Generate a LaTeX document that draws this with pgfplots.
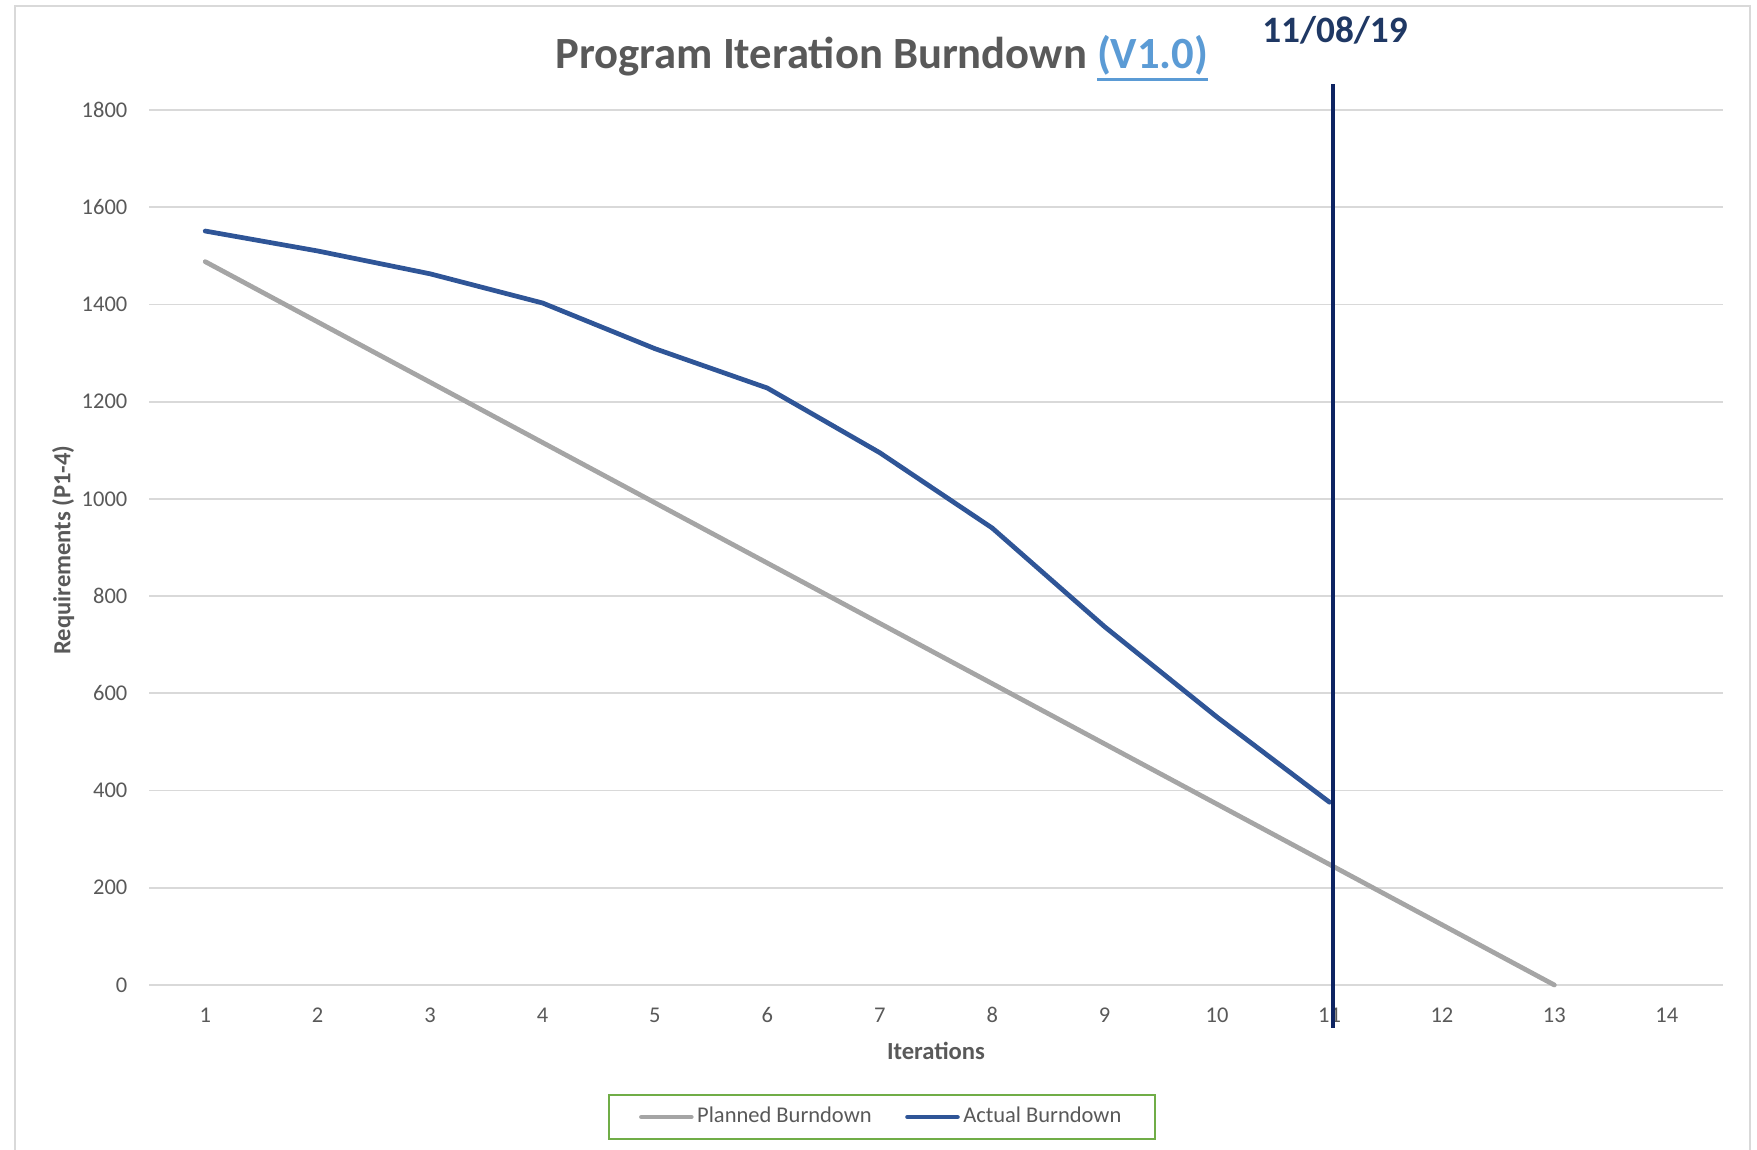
\documentclass[border=0pt]{standalone}
\usepackage{fontspec}
\setmainfont{Carlito}
\usepackage{pgfplots}
\pgfplotsset{compat=1.18}

\definecolor{txtgray}{HTML}{595959}
\definecolor{gridgray}{HTML}{D9D9D9}
\definecolor{planned}{HTML}{A5A5A5}
\definecolor{actual}{HTML}{2F5597}
\definecolor{navyline}{HTML}{0E2462}
\definecolor{datenavy}{HTML}{1F3864}
\definecolor{linkblue}{HTML}{5B9BD5}
\definecolor{legendgreen}{HTML}{70AD47}

\newcommand{\thickul}[1]{\setbox0\hbox{#1}\rlap{\raisebox{-3.6pt}{\rule{\wd0}{1pt}}}\box0}

\begin{document}
\begin{tikzpicture}
\begin{axis}[
  scale only axis, width=15.74cm, height=8.75cm,
  at={(1.49cm,-9.85cm)}, anchor=south west,
  xmin=0.5, xmax=14.5, ymin=0, ymax=1800,
  xtick={1,...,14}, ytick={0,200,...,1800},
  axis line style={draw=none}, major tick length=0pt,
  ymajorgrids, grid style={gridgray, line width=0.5pt},
  clip=false,
  /pgf/number format/assume math mode=true,
  /pgf/number format/1000 sep={},
  tick label style={font=\fontsize{6.4}{7}\selectfont, text=txtgray},
  xticklabel style={anchor=center, yshift=-0.30cm},
  yticklabel style={anchor=east, inner sep=0pt, xshift=-0.21cm},
  xlabel={Iterations}, ylabel={Requirements (P1-4)},
  label style={font=\fontsize{7}{8}\selectfont\bfseries, text=txtgray},
  xlabel style={at={(axis description cs:0.5,-0.0754)}, anchor=center},
  ylabel style={at={(axis description cs:-0.0546,0.497)}, anchor=center},
  legend columns=2,
  legend style={at={(axis description cs:0.4657,-0.1509)}, anchor=center,
    draw=legendgreen, line width=0.6pt, inner xsep=0.3cm, inner ysep=0.08cm,
    font=\fontsize{6.4}{7}\selectfont, text=txtgray,
    nodes={inner sep=1pt, anchor=west},
    /tikz/every even column/.append style={column sep=0.3cm}},
  legend image code/.code={\draw[#1, line width=1.3pt, line cap=round] (0cm,0cm) -- (0.5cm,0cm);},
]
\addplot[planned, line width=1.35pt, line cap=round, line join=round] coordinates {
  (1,1488) (2,1364) (3,1240) (4,1116) (5,992) (6,868) (7,744)
  (8,620) (9,496) (10,372) (11,248) (12,124) (13,0)
};
\addlegendentry{Planned Burndown}
\addplot[actual, line width=1.35pt, line cap=round, line join=round] coordinates {
  (1,1551) (2,1510) (3,1463) (4,1403) (5,1309) (6,1228) (7,1095)
  (8,940) (9,737) (10,551) (11,376)
};
\addlegendentry{Actual Burndown}
\addplot[navyline, line width=1.2pt, forget plot] coordinates {(11.03,-88) (11.03,1853)};
\end{axis}

\node[anchor=center, font=\fontsize{12.7}{15}\selectfont\bfseries] at (8.82cm,-0.585cm)
  {\textcolor{txtgray}{Program Iteration Burndown} \textcolor{linkblue}{\thickul{(V1.0)}}};
\node[anchor=center, font=\fontsize{10.6}{12}\selectfont\bfseries, text=datenavy] at (13.35cm,-0.30cm) {11/08/19};

\draw[gridgray, line width=0.6pt] (0.15cm,-11.6cm) |- (17.50cm,-0.06cm) -- (17.50cm,-11.6cm);
\pgfresetboundingbox
\useasboundingbox (0,0) rectangle (17.57cm,-11.50cm);
\end{tikzpicture}
\end{document}
